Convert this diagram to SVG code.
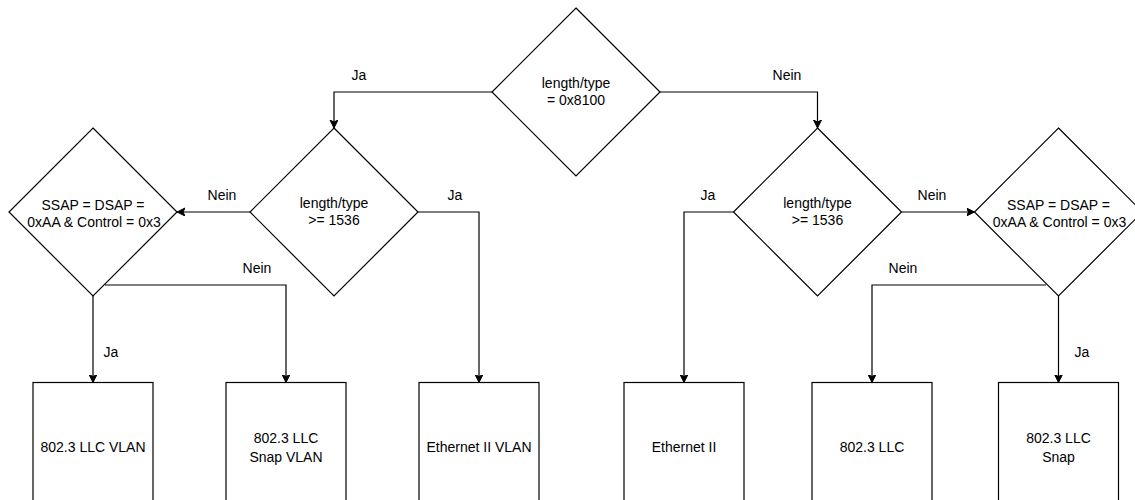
<svg xmlns="http://www.w3.org/2000/svg" width="1135" height="500" viewBox="0 0 1135 500">
  <defs>
    <marker id="arrow" markerUnits="userSpaceOnUse" markerWidth="10" markerHeight="10" refX="8" refY="4" orient="auto">
      <path d="M0,0 L8,4 L0,8 L2,4 Z" fill="#000" stroke="#000" stroke-width="1"/>
    </marker>
    <style>
      .shape { fill: #fff; stroke: #000; stroke-width: 1.2; }
      .edge { fill: none; stroke: #000; stroke-width: 1.2; }
      .arrowed { marker-end: url(#arrow); }
      text { font-family: "Liberation Sans", Arial, Helvetica, sans-serif; font-size: 14px; fill: #000; text-anchor: middle; }
    </style>
  </defs>
  <rect width="1135" height="500" fill="#fff"/>

  <!-- connectors -->
  <g id="connectors">
    <path class="edge arrowed" d="M492,92 H334 V128"/>
    <path class="edge arrowed" d="M660,92 H817.5 V128"/>
    <path class="edge arrowed" d="M250,212 H177"/>
    <path class="edge arrowed" d="M418,212 H479 V382.5"/>
    <path class="edge arrowed" d="M93,296 V382.5"/>
    <path class="edge arrowed" d="M105,285 H286 V382.5"/>
    <path class="edge arrowed" d="M733.5,212 H684 V382.5"/>
    <path class="edge arrowed" d="M901.5,212 H974.5"/>
    <path class="edge arrowed" d="M1046,285 H872 V382.5"/>
    <path class="edge arrowed" d="M1058.5,296 V382.5"/>
    <text x="359" y="80">Ja</text>
    <text x="787" y="80">Nein</text>
    <text x="222" y="200">Nein</text>
    <text x="455" y="200">Ja</text>
    <text x="111" y="357">Ja</text>
    <text x="257" y="273">Nein</text>
    <text x="708" y="200">Ja</text>
    <text x="932" y="200">Nein</text>
    <text x="903" y="273">Nein</text>
    <text x="1082" y="357">Ja</text>
  </g>

  <!-- decision nodes -->
  <g id="decision-8100">
    <polygon class="shape" points="576,8 660,92 576,176 492,92"/>
    <text x="576" y="88">length/type</text>
    <text x="576" y="105">= 0x8100</text>
  </g>
  <g id="decision-length-vlan">
    <polygon class="shape" points="334,128 418,212 334,296 250,212"/>
    <text x="334" y="208">length/type</text>
    <text x="334" y="225">&gt;= 1536</text>
  </g>
  <g id="decision-length">
    <polygon class="shape" points="817.5,128 901.5,212 817.5,296 733.5,212"/>
    <text x="817.5" y="208">length/type</text>
    <text x="817.5" y="225">&gt;= 1536</text>
  </g>
  <g id="decision-snap-vlan">
    <polygon class="shape" points="93,128 177,212 93,296 9,212"/>
    <text x="93" y="210">SSAP = DSAP =</text>
    <text x="94" y="227">0xAA &amp; Control = 0x3</text>
  </g>
  <g id="decision-snap">
    <polygon class="shape" points="1058.5,128 1142.5,212 1058.5,296 974.5,212"/>
    <text x="1058.5" y="210">SSAP = DSAP =</text>
    <text x="1059.5" y="227">0xAA &amp; Control = 0x3</text>
  </g>

  <!-- frame type boxes -->
  <g id="llc-vlan">
    <rect class="shape" x="33" y="382.5" width="120" height="130"/>
    <text x="93" y="452">802.3 LLC VLAN</text>
  </g>
  <g id="llc-snap-vlan">
    <rect class="shape" x="226" y="382.5" width="120" height="130"/>
    <text x="286" y="443">802.3 LLC</text>
    <text x="286" y="462">Snap VLAN</text>
  </g>
  <g id="ethernet-ii-vlan">
    <rect class="shape" x="419" y="382.5" width="120" height="130"/>
    <text x="479" y="452">Ethernet II VLAN</text>
  </g>
  <g id="ethernet-ii">
    <rect class="shape" x="624" y="382.5" width="120" height="130"/>
    <text x="684" y="452">Ethernet II</text>
  </g>
  <g id="llc">
    <rect class="shape" x="812" y="382.5" width="120" height="130"/>
    <text x="872" y="452">802.3 LLC</text>
  </g>
  <g id="llc-snap">
    <rect class="shape" x="998.5" y="382.5" width="120" height="130"/>
    <text x="1058.5" y="443">802.3 LLC</text>
    <text x="1058.5" y="462">Snap</text>
  </g>
</svg>
